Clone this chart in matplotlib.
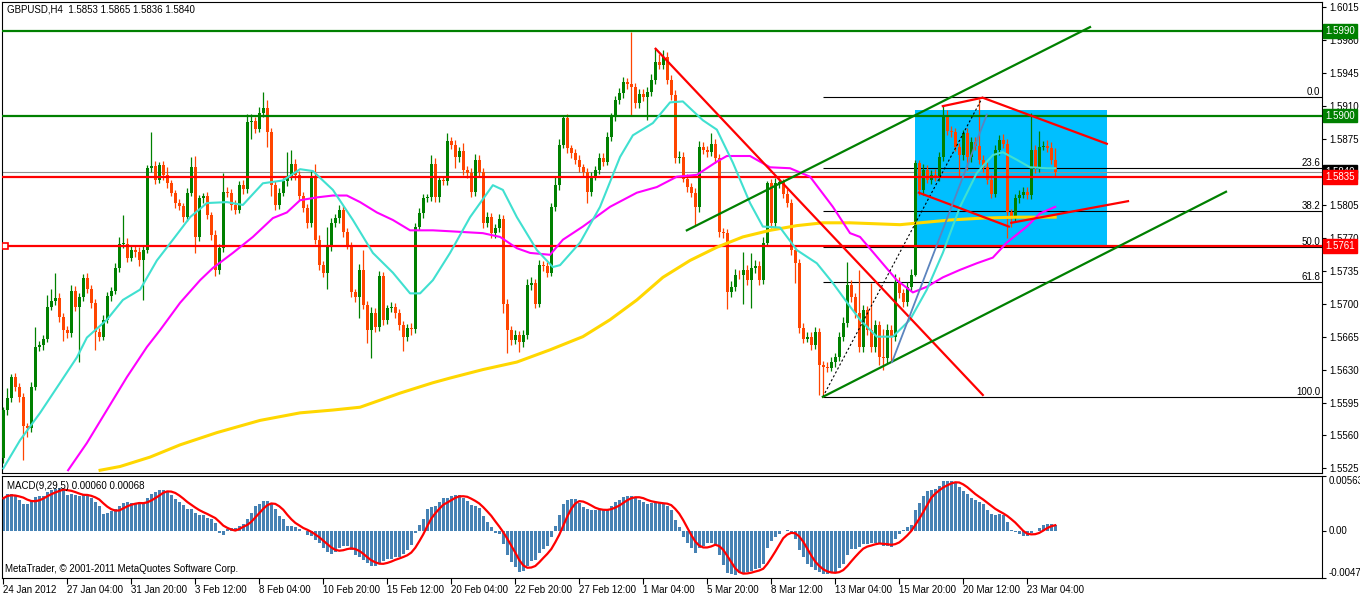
import matplotlib
matplotlib.use('Agg')
import matplotlib.pyplot as plt
from matplotlib.patches import Rectangle
from matplotlib.transforms import blended_transform_factory
import numpy as np
import pandas as pd

plt.rcParams['font.family'] = ['Liberation Sans', 'DejaVu Sans']

# ---------------- data (prices given as 1/10000 above 1.0) ----------------
first_open = 5536
closes = [
    5587, 5600, 5622, 5611, 5601, 5570, 5568, 5612, 5654, 5656, 5663, 5697, 5703, 5706, 5686, 5672,
    5669, 5714, 5697, 5707, 5727, 5716, 5701, 5670, 5665, 5683, 5708, 5714, 5738, 5764, 5764, 5749,
    5757, 5755, 5746, 5757, 5844, 5846, 5832, 5847, 5837, 5828, 5818, 5807, 5804, 5792, 5818, 5845,
    5771, 5812, 5814, 5794, 5773, 5736, 5759, 5819, 5818, 5805, 5800, 5826, 5822, 5893, 5894, 5886,
    5903, 5908, 5883, 5826, 5805, 5818, 5830, 5835, 5849, 5837, 5815, 5802, 5786, 5835, 5768, 5741,
    5733, 5760, 5786, 5791, 5800, 5776, 5762, 5712, 5707, 5736, 5699, 5672, 5690, 5675, 5729, 5683,
    5695, 5697, 5690, 5677, 5665, 5674, 5673, 5782, 5796, 5812, 5813, 5849, 5813, 5831, 5830, 5873,
    5869, 5856, 5862, 5842, 5839, 5819, 5853, 5840, 5786, 5792, 5775, 5780, 5790, 5700, 5672, 5661,
    5667, 5659, 5667, 5720, 5722, 5700, 5741, 5740, 5733, 5803, 5826, 5869, 5897, 5865, 5860, 5853,
    5845, 5840, 5819, 5835, 5842, 5855, 5851, 5877, 5899, 5916, 5924, 5936, 5933, 5930, 5913, 5923,
    5920, 5925, 5938, 5957, 5954, 5962, 5938, 5922, 5855, 5856, 5833, 5824, 5818, 5803, 5867, 5863,
    5861, 5870, 5855, 5776, 5775, 5712, 5718, 5731, 5730, 5736, 5725, 5738, 5740, 5725, 5765, 5828,
    5786, 5828, 5829, 5817, 5807, 5757, 5743, 5674, 5663, 5665, 5656, 5670, 5635, 5633, 5632, 5638,
    5643, 5665, 5680, 5720, 5707, 5690, 5654, 5693, 5672, 5654, 5677, 5643, 5642, 5672, 5665, 5723,
    5711, 5702, 5718, 5731, 5850, 5821, 5842, 5832, 5837, 5835, 5856, 5900, 5884, 5882, 5867, 5858,
    5881, 5856, 5872, 5868, 5853, 5845, 5832, 5817, 5863, 5874, 5870, 5797, 5792, 5812, 5816, 5819,
    5816, 5863, 5845, 5867, 5868, 5866, 5853, 5840]
upper_wick = [
    3, 10, 3, 4, 5, 4, 3, 5, 21, 4, 4, 12, 13, 27, 5, 4,
    4, 6, 5, 4, 5, 6, 4, 4, 4, 5, 4, 4, 5, 7, 30, 6,
    5, 4, 5, 4, 3, 36, 6, 4, 5, 8, 4, 3, 4, 3, 5, 11,
    12, 4, 4, 5, 4, 5, 4, 20, 5, 4, 5, 4, 5, 9, 8, 4,
    6, 17, 9, 4, 4, 5, 4, 26, 14, 5, 4, 4, 4, 6, 13, 5,
    4, 22, 5, 4, 5, 4, 4, 4, 4, 6, 21, 4, 6, 5, 6, 5,
    4, 5, 4, 4, 5, 4, 5, 4, 6, 5, 4, 9, 6, 5, 5, 8,
    4, 5, 5, 9, 4, 5, 6, 5, 4, 5, 4, 5, 5, 4, 5, 4,
    5, 4, 5, 6, 6, 4, 5, 4, 4, 4, 9, 6, 2, 5, 4, 4,
    5, 4, 4, 5, 4, 5, 5, 5, 4, 5, 5, 5, 4, 56, 5, 5,
    5, 5, 6, 15, 8, 8, 6, 5, 5, 6, 5, 5, 4, 5, 6, 5,
    5, 11, 5, 4, 5, 4, 6, 6, 5, 19, 5, 16, 6, 5, 6, 2,
    5, 6, 5, 4, 5, 4, 5, 4, 5, 5, 5, 5, 4, 4, 5, 5,
    5, 5, 6, 24, 5, 4, 46, 6, 5, 50, 6, 5, 30, 6, 5, 9,
    5, 5, 5, 6, 3, 3, 6, 5, 5, 6, 5, 10, 6, 5, 5, 4,
    4, 6, 5, 5, 50, 5, 6, 5, 6, 5, 6, 5, 4, 5, 5, 5,
    5, 40, 6, 17, 5, 6, 6, 12]
lower_wick = [
    5, 5, 4, 4, 5, 36, 10, 4, 4, 4, 5, 4, 4, 4, 5, 12,
    5, 4, 5, 59, 4, 5, 6, 19, 5, 4, 4, 5, 4, 4, 5, 5,
    4, 5, 6, 42, 3, 4, 5, 4, 5, 5, 4, 5, 4, 5, 4, 3,
    17, 4, 5, 4, 5, 7, 4, 4, 5, 5, 5, 4, 5, 4, 18, 5,
    4, 5, 16, 11, 5, 4, 4, 5, 4, 5, 5, 4, 6, 4, 5, 5,
    5, 17, 4, 4, 5, 5, 4, 5, 5, 22, 5, 14, 30, 5, 4, 6,
    5, 4, 5, 5, 15, 5, 6, 4, 4, 5, 4, 4, 5, 5, 4, 4,
    5, 12, 5, 5, 5, 6, 4, 5, 5, 4, 5, 5, 4, 10, 24, 5,
    4, 10, 5, 4, 5, 5, 4, 5, 5, 4, 4, 5, 4, 5, 5, 4,
    5, 5, 12, 5, 4, 4, 5, 4, 4, 5, 4, 5, 5, 30, 5, 5,
    5, 25, 4, 4, 5, 5, 4, 5, 5, 5, 4, 5, 5, 19, 5, 4,
    5, 4, 5, 5, 5, 18, 5, 5, 4, 30, 5, 30, 5, 5, 4, 4,
    5, 4, 5, 5, 4, 5, 21, 5, 5, 4, 5, 4, 32, 32, 5, 4,
    5, 4, 5, 5, 5, 5, 5, 5, 5, 5, 5, 8, 12, 5, 27, 5,
    5, 5, 4, 5, 2, 5, 5, 4, 5, 5, 5, 4, 5, 5, 5, 23,
    5, 14, 5, 5, 5, 5, 5, 5, 4, 5, 5, 27, 10, 5, 5, 4,
    5, 5, 6, 5, 4, 5, 5, 4]

# moving averages (bar index, price)
ma_fast_bar = [0, 4.2, 9.2, 14.2, 18.4, 20.9, 25.9, 29.9, 34.2, 38.4, 42.4, 46.7, 50.9, 55.9, 59.9,
               64.9, 69.9, 74.2, 77.4, 82.4, 87.4, 92.4, 97.4, 101.7, 104.2, 107.4, 111.7, 116.7,
               122.4, 124.9, 128.4, 133.4, 137.4, 139.2, 144.2, 149.2, 154.2, 157.4, 162.4, 166.7,
               169.9, 174.9, 178.4, 182.4, 186.7, 189.9, 194.2, 198.4, 203.4, 207.4, 211.7, 214.2,
               218.4, 222.4, 226.7, 230.9, 234.9, 239.2, 243.4, 247.4, 249.9, 253.4, 256.7, 260.9, 263]
ma_fast_val = [5525, 5555, 5584, 5616, 5643, 5664, 5683, 5704, 5715, 5746, 5768, 5792, 5807, 5808, 5805,
               5828, 5831, 5843, 5841, 5821, 5789, 5754, 5733, 5711, 5711, 5725, 5754, 5792,
               5826, 5821, 5792, 5757, 5739, 5741, 5765, 5803, 5856, 5879, 5892, 5914,
               5915, 5895, 5885, 5850, 5807, 5782, 5781, 5757, 5743, 5722, 5697, 5683,
               5665, 5665, 5683, 5715, 5754, 5803, 5839, 5858, 5861, 5853, 5845, 5844, 5844]
ma_mid_bar = [16.2, 20.9, 25.9, 30.9, 35.9, 39.2, 44.2, 49.2, 52.4, 57.4, 62.4, 67.4, 70.9, 74.2,
              78.4, 82.4, 85.9, 89.2, 93.4, 97.4, 101.7, 107.4, 111.7, 119.9, 124.2, 128.4, 131.7,
              136.7, 139.9, 144.9, 151.7, 158.4, 163.4, 168.4, 173.4, 178.4, 180.9, 186.7, 191.7,
              196.7, 201.7, 207.4, 211.7, 214.2, 219.2, 223.4, 227.4, 230.9, 234.9, 239.2, 243.4,
              247.4, 250.9, 255.9, 259.2, 263]
ma_mid_val = [5523, 5552, 5587, 5622, 5654, 5672, 5701, 5725, 5738, 5754, 5771, 5791, 5797, 5810,
              5813, 5815, 5815, 5808, 5797, 5789, 5778, 5778, 5777, 5775, 5771, 5759, 5754,
              5752, 5768, 5782, 5803, 5818, 5824, 5835, 5837, 5851, 5857, 5857, 5845,
              5844, 5835, 5803, 5775, 5771, 5746, 5725, 5712, 5718, 5728, 5736, 5743,
              5749, 5765, 5782, 5796, 5803]
ma_slow_bar = [24.2, 29.2, 36.7, 44.2, 53.4, 64.2, 74.2, 82.4, 89.2, 99.2, 107.4, 111.7, 119.9,
               128.4, 136.7, 144.9, 151.7, 158.4, 164.9, 171.7, 178.4, 184.9, 191.7, 198.4,
               204.9, 211.7, 224.2, 229.2, 236.7, 244.9, 253.4, 263]
ma_slow_val = [5523, 5527, 5537, 5550, 5563, 5576, 5584, 5587, 5590, 5605, 5616, 5621, 5630,
               5638, 5651, 5665, 5683, 5704, 5728, 5746, 5760, 5771, 5778, 5783,
               5786, 5786, 5784, 5786, 5789, 5791, 5792, 5792]

# MACD main line (units of 1e-5)
macd_main = [
    337, 382, 382, 357, 319, 278, 278, 312, 347, 364, 364, 399, 416, 434, 441, 434,
    371, 382, 371, 364, 371, 364, 337, 295, 253, 180, 191, 208, 226, 260, 285, 295,
    288, 278, 295, 278, 337, 382, 399, 423, 423, 406, 371, 330, 295, 267, 232, 226,
    191, 167, 163, 139, 121, 87, -17, -35, 24, 35, 35, 59, 80, 121, 191, 253,
    278, 305, 305, 278, 232, 156, 128, 52, 52, 45, 24, 0, -38, -52, -87, -121,
    -174, -208, -226, -208, -167, -149, -149, -191, -243, -260, -295, -323, -347, -347, -330, -302,
    -278, -278, -260, -260, -226, -191, -139, -17, 69, 128, 226, 243, 253, 295, 337, 337,
    364, 371, 371, 343, 309, 267, 260, 239, 156, 94, 42, -17, -28, -132, -236, -316,
    -364, -409, -402, -357, -305, -288, -219, -184, -149, -62, 59, 163, 274, 319, 330, 330,
    285, 250, 232, 222, 215, 215, 215, 226, 257, 295, 319, 347, 364, 361, 343, 319,
    302, 278, 291, 302, 285, 274, 257, 215, 111, 42, -56, -115, -167, -219, -167, -149,
    -115, -115, -132, -236, -340, -420, -437, -444, -427, -420, -409, -400, -385, -375, -330, -167,
    -97, -62, -28, 7, 17, -10, -80, -191, -260, -330, -364, -392, -409, -434, -434, -420,
    -409, -375, -330, -236, -177, -177, -156, -132, -132, -122, -115, -115, -149, -149, -156, -80,
    -28, 17, 42, 66, 222, 291, 364, 406, 423, 434, 458, 510, 517, 517, 493, 448,
    413, 378, 343, 319, 302, 274, 222, 180, 170, 180, 163, 94, 17, -3, -28, -52,
    -52, -17, 7, 35, 66, 76, 76, 60]

# hand drawn objects (bar index, price)
level_green = [5990, 5900]
level_red = [5835, 5761]
red_trend_bar, red_trend_val = [163.1, 244.9], [5971, 5603]
chan_up_bar, chan_up_val = [170.9, 271.7], [5778, 5994]
chan_lo_bar, chan_lo_val = [204.9, 305.7], [5601, 5819]
wedge_top_bar, wedge_top_val = [234.9, 244.85, 275.9], [5910, 5919, 5870]
wedge_lo1_bar, wedge_lo1_val = [228.9, 251.4], [5818, 5782]
wedge_lo2_bar, wedge_lo2_val = [252.0, 281.2], [5786, 5809]
blue_line_bar, blue_line_val = [222.2, 245.9], [5638, 5901]
rect_bar, rect_val = [228.0, 275.9], [5761, 5906]
fib_bar, fib_val = [204.9, 244.9], [5601, 5920]
fib_ratios = [0.0, 23.6, 38.2, 50.0, 61.8, 100.0]

price_ticks = [6015, 5980, 5945, 5910, 5875, 5840, 5805, 5770, 5735, 5700, 5665, 5630, 5595, 5560, 5525]
date_labels = ['24 Jan 2012', '27 Jan 04:00', '31 Jan 20:00', '3 Feb 12:00', '8 Feb 04:00',
               '10 Feb 20:00', '15 Feb 12:00', '20 Feb 04:00', '22 Feb 20:00', '27 Feb 12:00',
               '1 Mar 04:00', '5 Mar 20:00', '8 Mar 12:00', '13 Mar 04:00', '15 Mar 20:00',
               '20 Mar 12:00', '23 Mar 04:00']


def p(v):
    return 1 + np.asarray(v, dtype=float) / 10000


W, H = 1360, 596
UP, DOWN = '#008000', '#FF4500'


def box(x0, y0, x1, y1):
    return [x0 / W, 1 - y1 / H, (x1 - x0) / W, (y1 - y0) / H]


fig = plt.figure(figsize=(W / 100, H / 100), dpi=100)
ax = fig.add_axes(box(2, 1.7, 1322, 472.7))
ax2 = fig.add_axes(box(2, 476, 1322, 578.3), sharex=ax)

xmin, xmax = -0.325, 329.7
ax.set_xlim(xmin, xmax)
ax.set_ylim(1.55204, 1.60210)

# candles
c = np.array(closes)
o = np.r_[first_open, c[:-1]]
hi = np.maximum(o, c) + np.array(upper_wick)
lo = np.minimum(o, c) - np.array(lower_wick)
x = np.arange(len(c))
col = np.where(c >= o, UP, DOWN)
body = np.maximum(np.abs(c - o), 1.0)

# blue box
ax.add_patch(Rectangle((rect_bar[0], p(rect_val[0])), rect_bar[1] - rect_bar[0],
                       p(rect_val[1]) - p(rect_val[0]), fc='#00BFFF', ec='none', zorder=1))

ax.vlines(x, p(lo), p(hi), colors=col, lw=0.9, zorder=3)
ax.bar(x, body / 10000, bottom=p(np.minimum(o, c)), width=0.75, color=col, lw=0, zorder=3)

# horizontal levels
for v in level_green:
    ax.axhline(p(v), color='#008000', lw=1.6, zorder=4)
for v in level_red:
    ax.axhline(p(v), color='#FF0000', lw=1.6, zorder=4)
ax.axhline(p(closes[-1]), color='#909090', lw=0.8, zorder=2)
ax.plot(0.45, p(5761), marker='s', ms=4, mfc='white', mec='red', mew=1.2, zorder=6)

# fibonacci
fhi, flo = p(fib_val[1]), p(fib_val[0])
for r in fib_ratios:
    lv = fhi - r / 100 * (fhi - flo)
    ax.hlines(lv, fib_bar[0], xmax, color='black', lw=0.8, zorder=2)
    ax.text(0.9985, lv, f'{r:.1f}', transform=blended_transform_factory(ax.transAxes, ax.transData),
            ha='right', va='bottom', fontsize=7, zorder=6)
ax.plot(fib_bar, p(fib_val), color='black', lw=0.8, ls=(0, (2, 2)), zorder=5)

# moving averages
ax.plot(ma_slow_bar, p(ma_slow_val), color='#FFD700', lw=2.2, zorder=4)
ax.plot(ma_mid_bar, p(ma_mid_val), color='#FF00FF', lw=1.5, zorder=4)
ax.plot(ma_fast_bar, p(ma_fast_val), color='#40E0D0', lw=1.5, zorder=4)

# trend lines
ax.plot(red_trend_bar, p(red_trend_val), color='#FF0000', lw=1.6, zorder=5)
ax.plot(chan_up_bar, p(chan_up_val), color='#008000', lw=1.6, zorder=5)
ax.plot(chan_lo_bar, p(chan_lo_val), color='#008000', lw=1.6, zorder=5)
ax.plot(wedge_top_bar, p(wedge_top_val), color='#FF0000', lw=1.6, zorder=5)
ax.plot(wedge_lo1_bar, p(wedge_lo1_val), color='#FF0000', lw=1.6, zorder=5)
ax.plot(wedge_lo2_bar, p(wedge_lo2_val), color='#FF0000', lw=1.6, zorder=5)
ax.plot(blue_line_bar, p(blue_line_val), color='#5B84BE', lw=1.3, zorder=5)

# right price axis
ax.yaxis.tick_right()
ax.set_yticks(p(price_ticks))
ax.set_yticklabels([f'1.{v}' for v in price_ticks])
ax.tick_params(axis='y', direction='out', length=3, width=0.8, labelsize=7, pad=2)
ax.tick_params(axis='x', bottom=False, labelbottom=False)

bt = blended_transform_factory(ax.transAxes, ax.transData)
boxes = [(5840, 'black'), (5990, '#008000'), (5900, '#008000'), (5835, '#FF0000'), (5761, '#FF0000')]
for v, fc in boxes:
    ax.text(1.0025, p(v), f'1.{v}', transform=bt, color='white', fontsize=7, ha='left', va='center',
            bbox=dict(boxstyle='square,pad=0.2', fc=fc, ec=fc), clip_on=False, zorder=10)

# MACD
mm = np.array(macd_main) / 1e5
signal = pd.Series(mm).rolling(5, min_periods=1).mean()
ax2.bar(x, mm, width=0.7, color='#4682B4', lw=0, zorder=2)
ax2.plot(x, signal, color='#FF0000', lw=1.6, zorder=3)
ax2.set_ylim(-0.00477, 0.00563)
ax2.yaxis.tick_right()
ax2.set_yticks([0.00563, 0.0, -0.00477])
ax2.set_yticklabels(['0.00563', '0.00', '-0.00477'])
for t, va in zip(ax2.get_yticklabels(), ['top', 'center', 'bottom']):
    t.set_va(va)
ax2.tick_params(axis='y', direction='out', length=3, width=0.8, labelsize=7, pad=2)

ax2.set_xticks(np.arange(0, 257, 16))
ax2.set_xticklabels(date_labels, ha='left')
ax2.tick_params(axis='x', direction='out', length=4, width=0.8, labelsize=7, pad=1)

for a in (ax, ax2):
    for s in a.spines.values():
        s.set_linewidth(0.8)

fig.text(7 / W, 1 - 10 / H, 'GBPUSD,H4  1.5853 1.5865 1.5836 1.5840', fontsize=7, va='center')
fig.text(7 / W, 1 - 486 / H, 'MACD(9,29,5) 0.00060 0.00068', fontsize=7, va='center')
fig.text(5 / W, 1 - 569 / H, 'MetaTrader, \u00a9 2001-2011 MetaQuotes Software Corp.', fontsize=7, va='center')

fig.savefig('out.png', dpi=100)
